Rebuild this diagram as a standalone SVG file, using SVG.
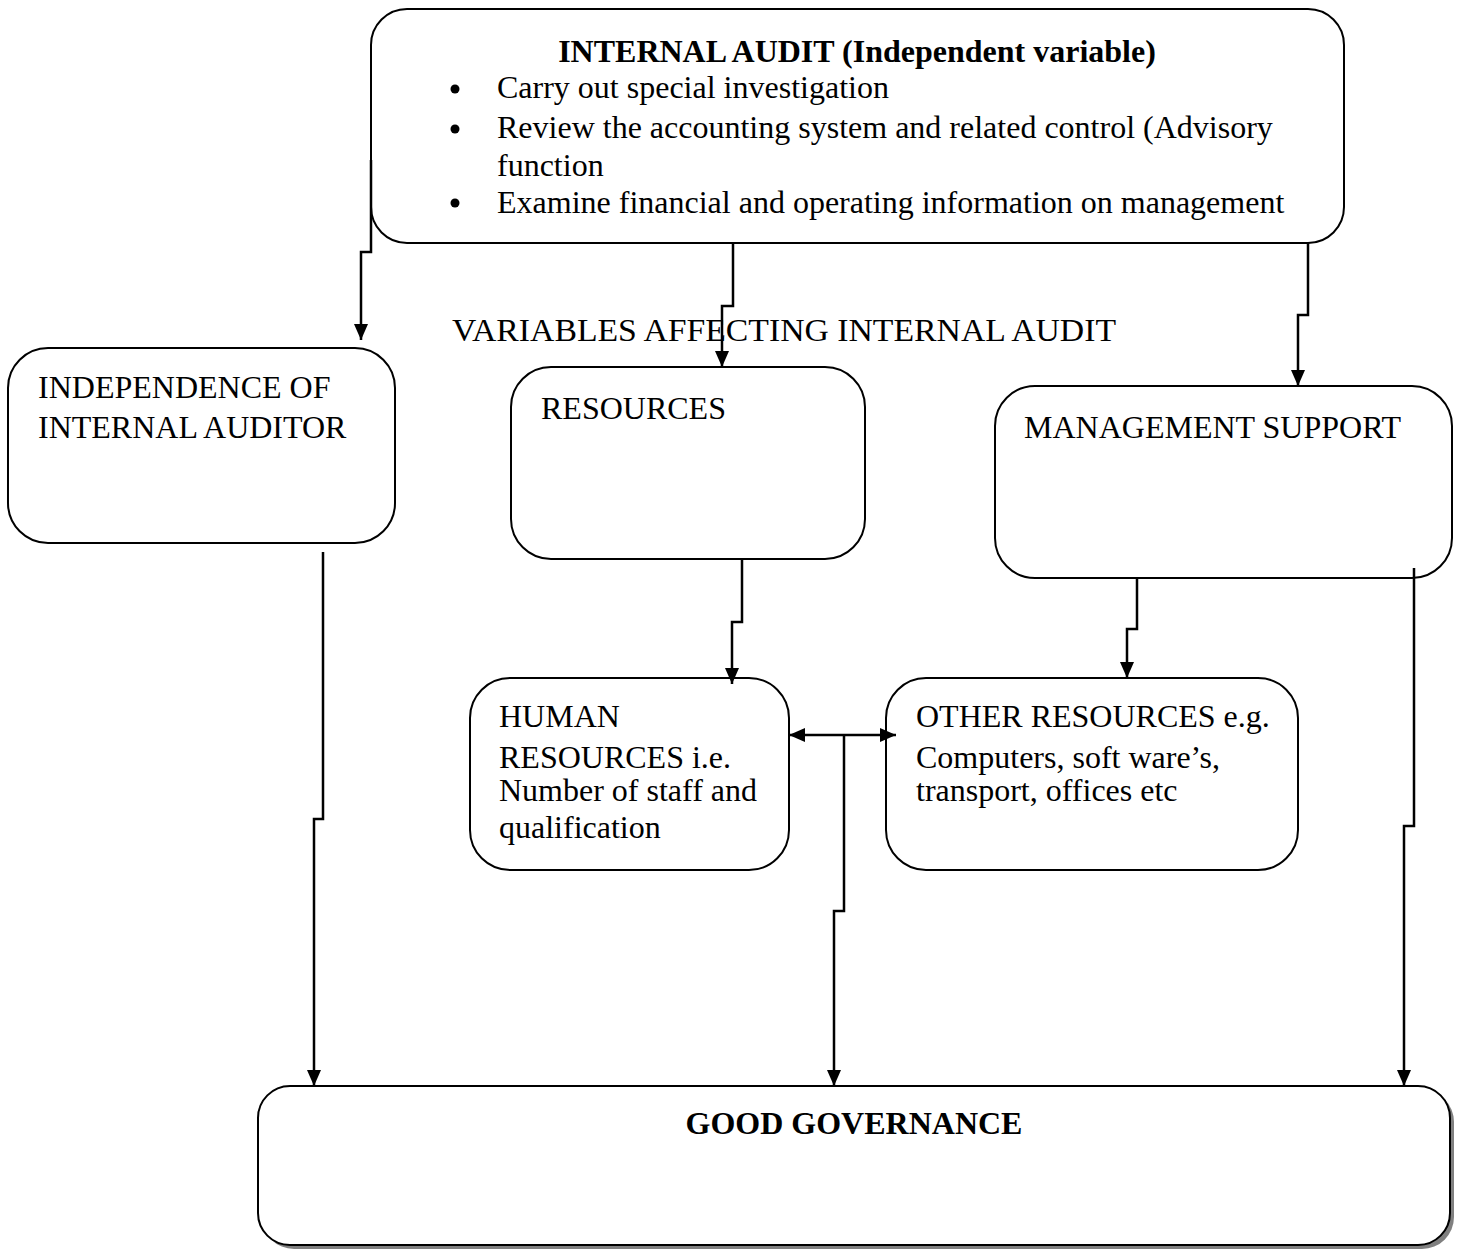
<svg xmlns="http://www.w3.org/2000/svg" width="1465" height="1253" viewBox="0 0 1465 1253">
<defs>
<marker id="ah" viewBox="0 0 16 14" refX="16" refY="7" markerWidth="16" markerHeight="14" markerUnits="userSpaceOnUse" orient="auto-start-reverse">
<path d="M0,0 L16,7 L0,14 z" fill="#000"/>
</marker>
</defs>
<style>
.box{fill:#fff;stroke:#000;stroke-width:2}
.t{font-family:"Liberation Serif","Times New Roman",serif;font-size:32px;fill:#000}
.b{font-weight:bold}
.c{fill:none;stroke:#000;stroke-width:2.5}
</style>
<rect x="0" y="0" width="1465" height="1253" fill="#fff"/>
<g id="internal-audit">
<rect class="box" x="371" y="9" width="973" height="234" rx="36" ry="36"/>
<text class="t b" x="857" y="62" text-anchor="middle">INTERNAL AUDIT (Independent variable)</text>
<circle cx="455" cy="89" r="4.5"/>
<text class="t" x="497" y="98">Carry out special investigation</text>
<circle cx="455" cy="129" r="4.5"/>
<text class="t" x="497" y="138">Review the accounting system and related control (Advisory</text>
<text class="t" x="497" y="176">function</text>
<circle cx="455" cy="203" r="4.5"/>
<text class="t" x="497" y="213">Examine financial and operating information on management</text>
</g>
<g id="variables-label">
<text class="t" x="452" y="341" textLength="664" lengthAdjust="spacingAndGlyphs">VARIABLES AFFECTING INTERNAL AUDIT</text>
</g>
<g id="independence">
<rect class="box" x="8" y="348" width="387" height="195" rx="40" ry="40"/>
<text class="t" x="38" y="398">INDEPENDENCE OF</text>
<text class="t" x="38" y="438">INTERNAL AUDITOR</text>
</g>
<g id="resources">
<rect class="box" x="511" y="367" width="354" height="192" rx="40" ry="40"/>
<text class="t" x="541" y="419">RESOURCES</text>
</g>
<g id="management-support">
<rect class="box" x="995" y="386" width="457" height="192" rx="40" ry="40"/>
<text class="t" x="1024" y="438">MANAGEMENT SUPPORT</text>
</g>
<g id="human-resources">
<rect class="box" x="470" y="678" width="319" height="192" rx="40" ry="40"/>
<text class="t" x="499" y="727">HUMAN</text>
<text class="t" x="499" y="768">RESOURCES i.e.</text>
<text class="t" x="499" y="801">Number of staff and</text>
<text class="t" x="499" y="838">qualification</text>
</g>
<g id="other-resources">
<rect class="box" x="886" y="678" width="412" height="192" rx="40" ry="40"/>
<text class="t" x="916" y="727">OTHER RESOURCES e.g.</text>
<text class="t" x="916" y="768">Computers, soft ware’s,</text>
<text class="t" x="916" y="801">transport, offices etc</text>
</g>
<g id="good-governance">
<rect x="262" y="1090" width="1192" height="159" rx="32" ry="32" fill="#808080"/>
<rect class="box" x="258" y="1086" width="1192" height="159" rx="32" ry="32"/>
<text class="t b" x="854" y="1134" text-anchor="middle">GOOD GOVERNANCE</text>
</g>
<g id="connectors">
<path class="c" d="M371,160 V252 H361 V340" marker-end="url(#ah)"/>
<path class="c" d="M733,243 V306 H722 V367" marker-end="url(#ah)"/>
<path class="c" d="M1308,243 V315 H1298 V386" marker-end="url(#ah)"/>
<path class="c" d="M742,559 V622 H732 V684" marker-end="url(#ah)"/>
<path class="c" d="M1137,578 V629 H1127 V678" marker-end="url(#ah)"/>
<path class="c" d="M789,735 H896" marker-start="url(#ah)" marker-end="url(#ah)"/>
<path class="c" d="M844,735 V911 H834 V1086" marker-end="url(#ah)"/>
<path class="c" d="M323,552 V819 H314 V1086" marker-end="url(#ah)"/>
<path class="c" d="M1414,568 V826 H1404 V1086" marker-end="url(#ah)"/>
</g>
</svg>
